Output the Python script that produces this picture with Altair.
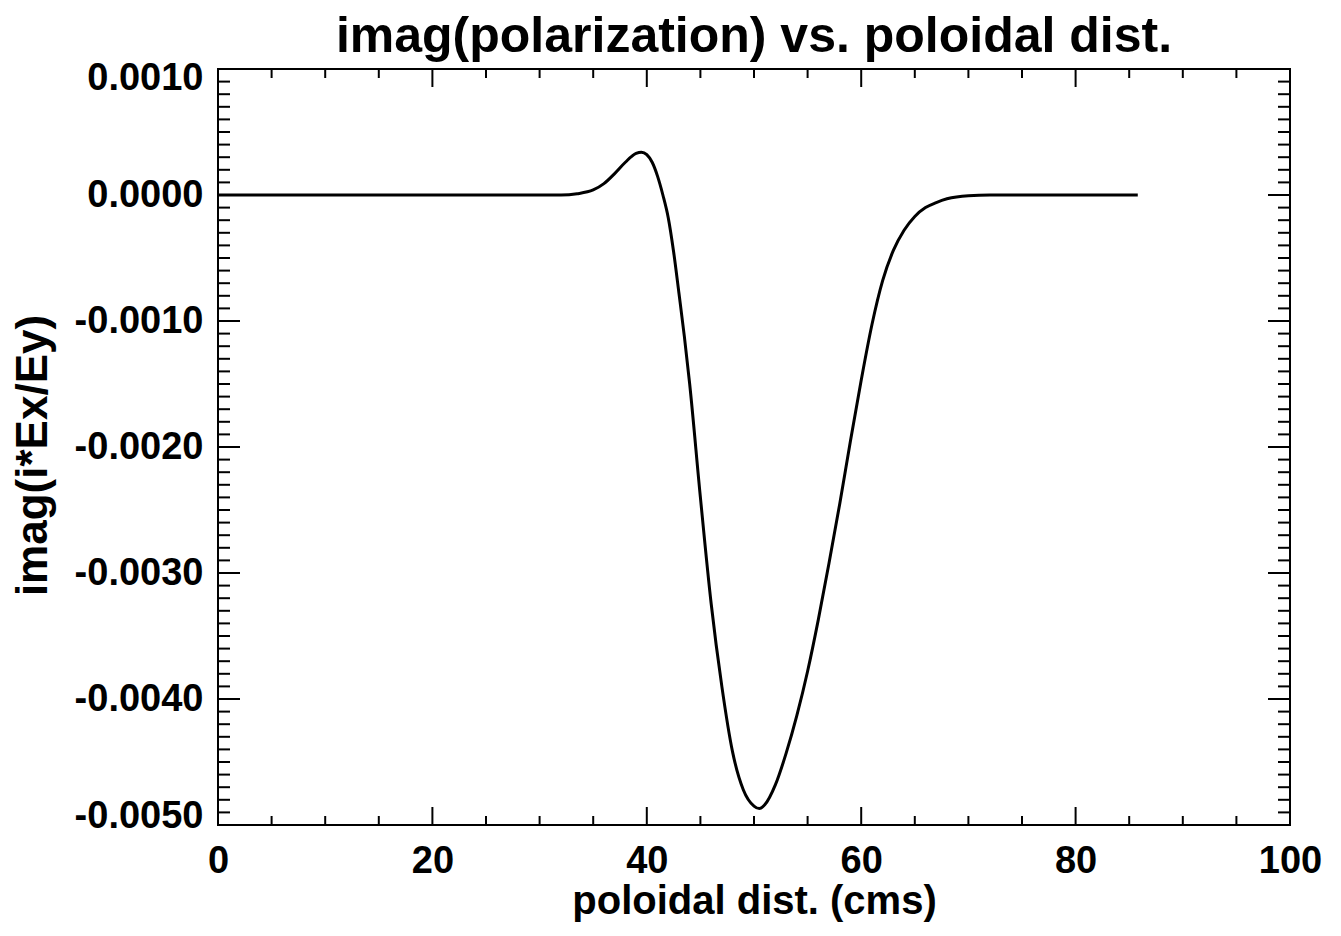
import altair as alt
import pandas as pd

# ---- data ----
dist_cm = [0, 5, 10, 15, 20, 25, 30, 32, 33.5, 35, 36, 37, 38, 39, 39.5, 40, 40.5,
           41, 41.5, 42, 42.5, 43, 43.5, 44, 45, 46, 47, 48, 49, 50, 50.5, 51, 52,
           53, 54, 55, 56, 57, 58, 59, 60, 61, 62, 63, 64, 65, 66, 67, 68, 70, 72,
           75, 80, 85.8]
imag_pol = [0, 0, 0, 0, 0, 0, 0, 0, 0.00001, 0.00004, 0.00009, 0.00017, 0.00026,
            0.00033, 0.00034, 0.00032, 0.00026, 0.00015, 0.0, -0.00018, -0.00045,
            -0.00078, -0.00112, -0.00150, -0.00240, -0.00324, -0.00390, -0.00442,
            -0.00472, -0.00485, -0.00487, -0.00484, -0.00468, -0.00443, -0.00413,
            -0.00378, -0.00337, -0.00292, -0.00245, -0.00195, -0.00147, -0.00103,
            -0.00068, -0.00044, -0.00028, -0.00017, -0.00010, -0.00006, -0.00003,
            -0.000005, 0, 0, 0, 0]

x_major = [0, 20, 40, 60, 80, 100]
x_minor = [v for v in range(0, 101, 5) if v % 20 != 0]
y_major = [-0.005, -0.004, -0.003, -0.002, -0.001, 0.0, 0.001]
y_minor = [round(-0.005 + i * 0.0001, 4) for i in range(61)]

TITLE = "imag(polarization) vs. poloidal dist."
XTITLE = "poloidal dist. (cms)"
YTITLE = "imag(i*Ex/Ey)"

W, H = 1072, 756
FONT = "Liberation Sans"

df = pd.DataFrame({"x": dist_cm, "y": imag_pol})
xs = alt.Scale(domain=[0, 100], nice=False, zero=False)
ys = alt.Scale(domain=[-0.005, 0.001], nice=False, zero=False)

line = alt.Chart(df).mark_line(color="black", strokeWidth=3, interpolate="monotone").encode(
    x=alt.X("x:Q", scale=xs, axis=alt.Axis(
        values=x_major, format="d", ticks=False, tickSize=0, domain=False, grid=False,
        labelFlush=False,
        labelFont=FONT, labelFontWeight="bold", labelFontSize=38, labelColor="black",
        labelPadding=17, title=XTITLE, titleFont=FONT, titleFontWeight="bold",
        titleFontSize=40, titleColor="black", titleX=W / 2, titleY=88,
        titleBaseline="alphabetic", titleAlign="center")),
    y=alt.Y("y:Q", scale=ys, axis=alt.Axis(
        values=y_major, ticks=False, tickSize=0, domain=False, grid=False,
        labelExpr="replace(format(datum.value, '.4f'), '\u2212', '-')",
        labelFont=FONT, labelFontWeight="bold", labelFontSize=38, labelColor="black",
        labelPadding=15, labelFlush=True, labelFlushOffset=10,
        title=YTITLE, titleFont=FONT, titleFontWeight="bold", titleFontSize=44,
        titleColor="black", titleAngle=270, titleX=-172, titleY=386,
        titleBaseline="alphabetic", titleAlign="center")),
)

def xticks(vals, length):
    d = pd.DataFrame({"v": vals})
    bot = alt.Chart(d).mark_rule(color="black", strokeWidth=2).encode(
        x=alt.X("v:Q", scale=xs, axis=None), y=alt.value(H), y2=alt.value(H - length))
    top = alt.Chart(d).mark_rule(color="black", strokeWidth=2).encode(
        x=alt.X("v:Q", scale=xs, axis=None), y=alt.value(0), y2=alt.value(length))
    return [bot, top]

def yticks(vals, length):
    d = pd.DataFrame({"v": vals})
    left = alt.Chart(d).mark_rule(color="black", strokeWidth=2).encode(
        y=alt.Y("v:Q", scale=ys, axis=None), x=alt.value(0), x2=alt.value(length))
    right = alt.Chart(d).mark_rule(color="black", strokeWidth=2).encode(
        y=alt.Y("v:Q", scale=ys, axis=None), x=alt.value(W), x2=alt.value(W - length))
    return [left, right]

layers = [line] + xticks(x_minor, 9) + xticks(x_major, 18) + yticks(y_minor, 12) + yticks(y_major, 22)

chart = alt.layer(*layers).resolve_axis(x="independent", y="independent").properties(
    width=W, height=H,
    title=alt.TitleParams(TITLE, font=FONT, fontWeight="bold", fontSize=50, color="black",
                          anchor="middle", baseline="alphabetic", offset=19, dy=62,
                          frame="group"),
    autosize=alt.AutoSizeParams(type="none"),
    padding={"left": 218, "top": 69, "right": 51, "bottom": 111},
    background="white",
).configure_view(stroke="black", strokeWidth=2)

chart.save("out.html", embed_options={"renderer": "svg", "actions": False})
